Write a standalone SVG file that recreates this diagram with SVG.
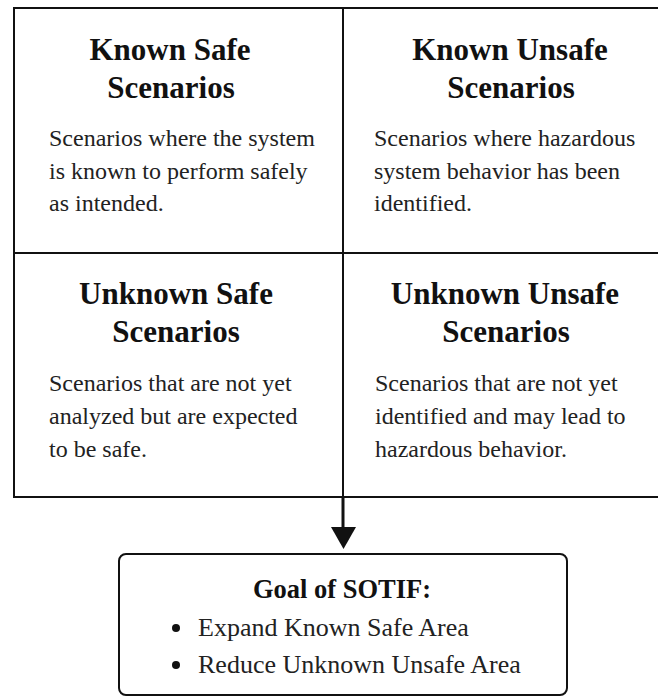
<svg xmlns="http://www.w3.org/2000/svg" width="658" height="697" viewBox="0 0 658 697">
<style>
.t{font-family:"Liberation Serif","Times New Roman",serif;font-weight:bold;font-size:31px;fill:#111;text-anchor:middle}
.b{font-family:"Liberation Serif","Times New Roman",serif;font-size:24px;fill:#222}
.g{font-family:"Liberation Serif","Times New Roman",serif;font-size:26px;fill:#222}
.gt{font-family:"Liberation Serif","Times New Roman",serif;font-weight:bold;font-size:26.5px;fill:#111;text-anchor:middle}
.ln{stroke:#111;stroke-width:2;fill:none}
</style>
<rect width="658" height="697" fill="#fff"/>
<g id="grid">
<rect class="ln" x="14" y="8" width="700" height="489"/>
<line class="ln" x1="343" y1="8" x2="343" y2="497"/>
<line class="ln" x1="14" y1="253" x2="700" y2="253"/>
</g>
<g id="known-safe">
<text class="t" x="170" y="60">Known Safe</text>
<text class="t" x="171" y="98">Scenarios</text>
<text class="b" x="49" y="146">Scenarios where the system</text>
<text class="b" x="49" y="179">is known to perform safely</text>
<text class="b" x="49" y="211">as intended.</text>
</g>
<g id="known-unsafe">
<text class="t" x="510" y="60">Known Unsafe</text>
<text class="t" x="511" y="98">Scenarios</text>
<text class="b" x="374" y="146">Scenarios where hazardous</text>
<text class="b" x="374" y="179">system behavior has been</text>
<text class="b" x="374" y="211">identified.</text>
</g>
<g id="unknown-safe">
<text class="t" x="176" y="304">Unknown Safe</text>
<text class="t" x="176" y="342">Scenarios</text>
<text class="b" x="49" y="391">Scenarios that are not yet</text>
<text class="b" x="49" y="424">analyzed but are expected</text>
<text class="b" x="49" y="457">to be safe.</text>
</g>
<g id="unknown-unsafe">
<text class="t" x="505" y="304">Unknown Unsafe</text>
<text class="t" x="506" y="342">Scenarios</text>
<text class="b" x="375" y="391">Scenarios that are not yet</text>
<text class="b" x="375" y="424">identified and may lead to</text>
<text class="b" x="375" y="457">hazardous behavior.</text>
</g>
<g id="connectors">
<line x1="343" y1="497" x2="343" y2="530" stroke="#111" stroke-width="3"/>
<polygon points="331,527 356,527 343.5,549" fill="#111"/>
</g>
<g id="goal">
<rect class="ln" x="119" y="554" width="448" height="141" rx="7"/>
<text class="gt" x="342" y="598">Goal of SOTIF:</text>
<circle cx="176" cy="628" r="4" fill="#111"/>
<text class="g" x="198" y="636">Expand Known Safe Area</text>
<circle cx="176" cy="665" r="4" fill="#111"/>
<text class="g" x="198" y="673">Reduce Unknown Unsafe Area</text>
</g>
</svg>
